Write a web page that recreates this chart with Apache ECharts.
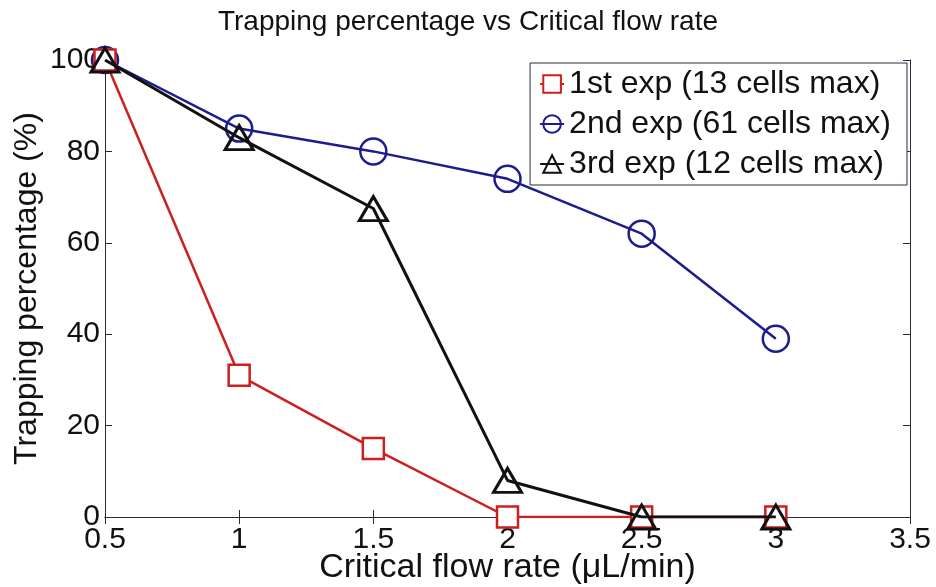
<!DOCTYPE html>
<html><head><meta charset="utf-8">
<script src="https://cdn.jsdelivr.net/npm/echarts@6/dist/echarts.min.js"></script>
<style>html,body{margin:0;padding:0;background:#fff}#c{width:936px;height:587px}</style>
</head><body><div id="c"></div>
<script>
const flowRates = [0.5, 1, 1.5, 2, 2.5, 3];
const exp1 = [100, 31, 15, 0, 0, 0];
const exp2 = [100, 85, 80, 74, 62, 39];
const exp3 = [100, 83, 67.5, 8, 0, 0];
const seriesNames = ['1st exp (13 cells max)', '2nd exp (61 cells max)', '3rd exp (12 cells max)'];
const xTicks = [0.5, 1, 1.5, 2, 2.5, 3, 3.5];
const yTicks = [0, 20, 40, 60, 80, 100];

const font = 'Liberation Sans, Arial, sans-serif';
const pairs = (ys) => flowRates.map((x, i) => [x, ys[i]]);
const chart = echarts.init(document.getElementById('c'));
const axisCommon = {
  axisLine: {show: true, lineStyle: {color: '#2a2a3a', width: 1}},
  axisTick: {show: true, inside: true, length: 7, lineStyle: {color: '#2a2a3a'}},
  splitLine: {show: false}
};
chart.setOption({
  animation: false,
  backgroundColor: '#fff',
  title: {text: 'Trapping percentage vs Critical flow rate', left: 'center', top: 3,
    textStyle: {fontFamily: font, fontSize: 28, fontWeight: 'normal', color: '#111'}},
  grid: {left: 105, right: 26, top: 60, bottom: 70, containLabel: false, outerBoundsMode: 'none'},
  legend: {
    data: seriesNames, orient: 'vertical', right: 29, top: 63,
    backgroundColor: '#fff', borderColor: '#2a2a3a', borderWidth: 1,
    padding: [4, 16, 4, 9], itemGap: 6, itemWidth: 24, itemHeight: 22,
    textStyle: {fontFamily: font, fontSize: 32, lineHeight: 34, color: '#111'}
  },
  xAxis: [
    Object.assign({type: 'value', min: 0.5, max: 3.5, interval: 0.5,
      name: 'Critical flow rate (\u03bcL/min)', nameLocation: 'middle', nameGap: 34,
      nameMoveOverlap: false,
      nameTextStyle: {fontFamily: font, fontSize: 34, color: '#111'},
      axisLabel: {fontFamily: font, fontSize: 30, color: '#111', margin: 8,
        formatter: v => xTicks.includes(+v.toFixed(1)) ? String(v) : ''}}, axisCommon),
    Object.assign({type: 'value', position: 'top', min: 0.5, max: 3.5, interval: 0.5,
      axisLabel: {show: false}}, axisCommon)
  ],
  yAxis: [
    Object.assign({type: 'value', min: 0, max: 100, interval: 20,
      name: 'Trapping percentage (%)', nameLocation: 'middle', nameGap: 62,
      nameMoveOverlap: false,
      nameTextStyle: {fontFamily: font, fontSize: 32, color: '#111'},
      axisLabel: {fontFamily: font, fontSize: 30, color: '#111', margin: 5,
        formatter: v => yTicks.includes(v) ? String(v) : ''}}, axisCommon),
    Object.assign({type: 'value', position: 'right', min: 0, max: 100, interval: 20,
      axisLabel: {show: false}}, axisCommon)
  ],
  series: [
    {name: seriesNames[0], type: 'line', data: pairs(exp1), symbol: 'rect', symbolSize: 21,
      color: '#cc1f1f', lineStyle: {width: 2.5, color: '#cc1f1f'},
      itemStyle: {color: '#fff', borderColor: '#cc1f1f', borderWidth: 2.5}, z: 3},
    {name: seriesNames[1], type: 'line', data: pairs(exp2), symbol: 'circle', symbolSize: 26,
      color: '#1c1c8c', lineStyle: {width: 2.5, color: '#1c1c8c'},
      itemStyle: {color: 'rgba(255,255,255,0)', borderColor: '#1c1c8c', borderWidth: 2.5}, z: 2},
    {name: seriesNames[2], type: 'line', data: pairs(exp3), symbol: 'triangle', symbolSize: [28, 24],
      color: '#111', lineStyle: {width: 3, color: '#111'},
      itemStyle: {color: 'rgba(255,255,255,0)', borderColor: '#111', borderWidth: 3}, z: 4}
  ]
});
</script></body></html>
